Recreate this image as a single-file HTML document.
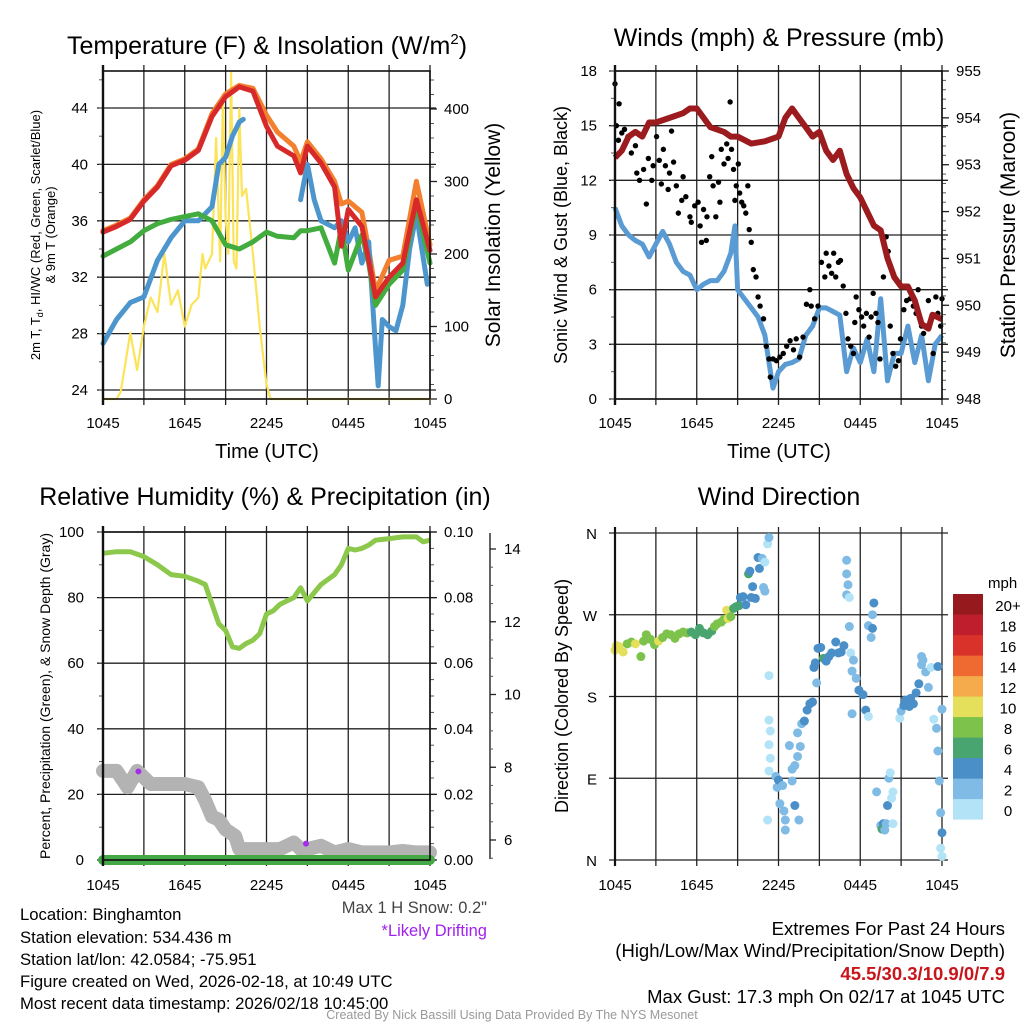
<!DOCTYPE html>
<html><head><meta charset="utf-8"><style>
html,body{margin:0;padding:0;background:#fff}
svg{display:block;font-family:"Liberation Sans",sans-serif}
</style></head><body>
<svg id="c" width="1024" height="1024" viewBox="0 0 1024 1024" xmlns="http://www.w3.org/2000/svg"></svg>
<script>
// ===== DATA =====
const xTickLabels = ["1045","1645","2245","0445","1045"];
const tH   = [0,1,2,3,4,5,6,7,8,9,10,11,12,12.8,14,14.5,15,16,17,17.5,18,19,19.5,20,21,22,23,24];
const tRed = [35.2,35.6,36.1,37.4,38.4,39.9,40.3,41.0,43.4,44.8,45.5,45.2,42.7,41.3,40.6,39.4,41.3,40.1,38.4,34.2,36.8,35.6,33.2,30.6,32.0,33.0,37.5,33.9];
const tOrg = [35.3,35.7,36.2,37.5,38.5,40.0,40.4,41.1,43.6,45.0,45.6,45.4,43.5,42.3,41.3,40.2,41.6,40.4,38.8,37.2,37.4,36.6,34.0,31.0,33.2,33.5,38.8,34.3];
const tGrn = [33.5,34.0,34.5,35.3,35.8,36.1,36.3,36.5,36.0,34.3,34.0,34.5,35.2,34.9,34.8,35.3,35.3,35.5,33.0,35.5,32.5,35.0,33.0,30.0,31.5,32.5,37.2,33.0];
const bH   = [0,1,2,3,4,5,6,7,8,8.5,9,9.5,10,10.3,null,14.5,15,15.5,16,17,17.5,18,18.5,19,19.5,20,20.2,20.5,21,21.5,22,22.5,23,23.8];
const bVal = [27.3,29.0,30.2,30.6,33.2,34.8,36.0,36.0,37.0,40.0,40.5,42.0,43.0,43.2,null,37.5,40.0,37.5,36.0,35.5,36.0,34.5,35.5,33.0,34.5,27.0,24.3,29.0,28.5,28.2,30.0,34.0,36.5,31.5];
const sH   = [0,1,1.3,2,2.5,3,3.5,4,4.5,5,5.5,6,6.5,7,7.3,7.5,8,8.3,8.6,8.8,9,9.2,9.4,9.6,9.8,10,10.2,10.5,11,11.5,12,12.3,24];
const sVal = [0,0,10,91,40,100,140,120,200,130,150,100,130,140,200,180,200,360,190,420,250,200,450,190,180,400,280,290,200,100,20,0,0];
const wH   = [0,0.5,1,1.5,2,2.5,3,3.5,4,4.5,5,5.5,6,6.5,7,7.5,8,8.5,8.8,9,9.5,10,10.5,11,11.3,11.6,12,12.5,13,13.5,14,14.5,15,15.5,16,16.5,17,17.5,18,18.5,19,19.5,20,20.5,21,21.5,22,22.5,23,23.5,24];
const wSpd = [10.5,9.5,9.0,8.7,8.5,7.8,8.5,9.2,8.5,7.5,7.0,6.8,6.0,6.3,6.5,6.5,7.0,8.0,9.5,6.0,5.5,5.0,4.5,3.5,2.0,0.6,1.5,1.9,2.0,2.2,3.5,4.0,5.0,5.0,4.8,4.6,1.5,2.8,2.0,3.3,1.5,5.5,1.0,2.5,2.5,4.0,2.0,3.5,1.0,3.0,3.5];
const gH   = [0,0.3,0.1,0.25,0.5,0.7,0.95,1.2,1.5,1.6,1.8,2.1,2.3,2.45,2.7,2.8,3.05,3.25,3.4,3.55,3.7,3.9,4.0,4.15,4.3,4.5,4.65,4.9,5.0,5.2,5.5,5.6,5.85,6.1,6.25,6.35,6.5,6.7,6.75,6.95,7.1,7.2,7.4,7.6,7.7,7.8,8.0,8.2,8.3,8.45,8.55,8.7,8.8,8.9,9.05,9.15,9.3,9.45,9.6,9.75,9.85,10.0,10.15,10.35,10.5,10.65,10.9,11.1,11.3,11.4,11.6,11.85,12.1,12.35,12.6,12.85,13.1,13.3,13.55,13.8,14.05,14.3,14.4,14.65,14.9,15.15,15.4,15.5,15.7,15.9,16.05,16.2,16.4,16.55,16.75,16.95,17.1,17.3,17.5,17.6,17.7,17.9,18.1,18.25,18.45,18.65,18.8,18.95,19.15,19.3,19.45,19.7,19.9,20.05,20.2,20.4,20.6,20.8,20.95,21.2,21.4,21.65,21.9,22.1,22.25,22.5,22.65,22.85,23.0,23.15,23.35,23.55,23.7,23.9,24.0];
const gVal = [17.3,16.2,15.0,14.2,14.6,14.8,14.4,13.5,13.9,12.4,12.0,12.6,10.7,13.2,12.0,12.8,14.4,13.1,11.8,13.7,12.8,11.5,12.4,14.7,13.0,11.7,10.2,10.9,12.2,11.1,10.0,9.7,10.6,10.8,9.5,8.6,10.4,8.7,10.0,12.2,13.3,11.7,10.0,11.9,10.8,13.7,12.9,14.0,13.2,16.3,13.7,12.6,10.9,11.7,12.9,11.3,10.8,10.6,10.2,11.7,9.3,8.6,7.1,6.7,5.6,5.1,4.4,2.9,2.2,1.2,2.2,2.1,2.3,2.5,2.9,3.2,2.7,3.3,2.3,3.4,5.2,6.0,5.1,4.4,5.1,7.5,6.7,8.0,7.3,6.9,8.0,6.7,7.5,7.6,6.2,4.7,3.3,2.9,2.5,4.2,5.6,4.9,4.5,4.0,4.7,3.4,4.5,5.8,4.7,4.2,2.2,6.7,8.9,8.1,4.0,2.5,1.8,2.1,3.3,4.9,5.4,5.5,5.1,4.7,6.0,4.0,3.6,4.0,5.4,4.2,2.5,5.6,4.7,4.0,5.5];
const pH   = [0,0.5,1,1.5,2,2.5,3,4,5,5.5,6,6.5,7,8,8.5,9,10,11,12,12.5,13,13.5,14,14.5,15,15.5,16,16.5,17,17.5,18,18.5,19,19.5,20,20.5,21,21.5,22,22.5,23,23.3,24];
const pVal = [953.15,953.3,953.6,953.7,953.6,953.9,953.9,954.0,954.1,954.2,954.2,954.0,953.8,953.7,953.6,953.6,953.45,953.5,953.6,954.0,954.2,954.0,953.8,953.6,953.7,953.3,953.1,953.3,952.8,952.5,952.3,952.0,951.7,951.6,951.0,950.6,950.4,950.4,950.1,949.6,949.5,949.8,949.7];
const rhH  = [0,1,2,3,4,5,6,7,7.5,8,8.5,9,9.5,10,10.5,11,11.5,12,12.5,13,14,14.5,15,16,17,17.5,18,18.5,19,19.5,20,21,22,23,23.5,24];
const rhV  = [93.5,94,94,92.5,90,87,86.5,85,84,78,72,70,65,64.5,66,67,69,75,76,78,80,83,79,84,87,90,95,94.5,95,96,97.5,98,98.5,98.5,97,97.5];
const prH  = [0,24];
const prV  = [0,0];
const snH  = [0,1,1.8,2.5,3.5,4,5,6,7,7.5,8,8.5,9,9.7,10,11,12,13,14,14.5,15,16,17,18,19,20,21,22,23,24];
const snV  = [7.9,7.9,7.45,7.9,7.54,7.54,7.54,7.54,7.45,7.09,6.64,6.56,6.29,6.11,5.75,5.75,5.75,5.75,5.93,5.75,5.75,5.84,5.66,5.75,5.66,5.66,5.66,5.7,5.66,5.66];
const drH  = [2.6,14.9];
const drPct= [27,5];
const dH = [0,0.1,0.3,0.6,0.9,1.2,1.5,1.9,2.1,2.3,2.6,2.9,3.2,3.5,3.8,4.1,4.4,4.7,5.0,5.3,5.6,5.9,6.2,6.5,6.8,7.1,7.3,7.5,7.8,8.0,8.2,8.3,8.5,8.7,8.9,9.1,9.2,9.4,9.6,9.8,9.9,10.0,10.1,10.3,10.5,10.6,10.8,10.9,11.0,11.0,11.2,11.3,
 11.3,11.3,11.4,11.3,11.4,11.3,11.2,11.8,11.9,12.0,12.1,12.3,12.4,12.5,12.5,12.8,13.0,13.2,13.0,13.4,13.6,13.4,13.7,13.9,14.1,14.3,14.5,14.6,14.7,14.9,15.1,15.3,15.5,15.7,15.9,16.2,16.4,16.6,16.8,14.8,13.2,13.5,
 17.0,17.0,17.1,17.0,17.2,17.2,17.3,17.5,17.4,17.7,17.9,18.2,18.4,17.4,18.6,18.6,18.8,18.9,18.9,19.0,19.2,19.5,19.7,19.6,19.8,19.9,20.0,20.1,20.2,20.3,20.4,20.4,20.9,21.0,21.2,21.3,21.6,21.7,21.9,22.1,22.3,22.5,22.5,22.6,22.8,23.0,23.2,23.4,23.6,23.7,23.8,23.9,24.0,23.9,24.0,24.0,23.7];
const dDir = [231,236,235,229,238,240,238,224,241,248,243,237,241,245,249,248,244,249,251,250,251,248,255,250,248,252,257,260,262,265,275,266,268,277,279,280,289,290,281,315,318,289,301,288,333,321,332,300,296,328,348,355,
 203,154,142,127,112,98,44,92,80,88,62,82,54,44,33,126,100,104,87,114,125,140,150,153,165,172,174,212,217,233,234,222,219,224,228,240,228,229,236,195,60,44,
 330,315,303,292,289,257,228,220,208,200,187,182,165,161,158,258,245,270,255,283,75,38,40,34,33,40,60,90,96,68,75,40,156,164,170,176,169,178,172,184,194,224,215,220,207,190,212,155,145,120,87,52,30,13,4,166,213];
const dSpd = [10,10,10,10,8,8,10,8,8,8,8,8,10,8,8,8,8,8,8,8,6,6,6,6,6,6,8,8,8,8,10,10,8,6,6,6,4,4,4,6,4,4,4,4,4,4,2,2,2,0,0,2,
 0,0,0,0,0,0,0,2,2,4,2,2,2,2,2,2,2,2,2,2,2,2,2,4,4,4,4,4,4,4,4,6,4,4,4,4,4,4,4,2,4,2,2,
 2,2,2,0,2,0,2,2,2,4,4,4,2,0,2,2,2,4,4,2,2,4,6,2,2,4,2,0,0,0,0,0,2,4,4,4,4,4,4,4,2,2,2,2,2,0,0,2,2,2,2,4,0,0,2,4,0];
const cbLabels = ["20+","18","16","14","12","10","8","6","4","2","0"];
const cbColors = ["#b3e3f7","#7fbbe4","#4a8fc7","#48a56f","#7cc24b","#e5e05c","#f5aa4b","#ef6a31","#d8322a","#bf1e2d","#961a1d"];

// ===== DRAWING =====
const NS="http://www.w3.org/2000/svg";
const svg=document.getElementById('c');
function el(tag,attrs,parent,text){const e=document.createElementNS(NS,tag);for(const k in attrs)e.setAttribute(k,attrs[k]);if(text!==undefined)e.textContent=text;(parent||svg).appendChild(e);return e;}
function lin(d0,d1,r0,r1){return v=>r0+(v-d0)*(r1-r0)/(d1-d0);}
function pathFrom(xs,ys,fx,fy){let d="",pen=false;for(let i=0;i<xs.length;i++){if(xs[i]===null||ys[i]===null){pen=false;continue;}d+=(pen?"L":"M")+fx(xs[i]).toFixed(1)+","+fy(ys[i]).toFixed(1);pen=true;}return d;}

function grid(g,x0,x1,y0,y1,xs,ys){
  for(const x of xs){const l=el('line',{x1:x,x2:x,y1:y0-6,y2:y1+6,stroke:'#222','stroke-width':1.3},g);}
  for(const y of ys){const l=el('line',{x1:x0-6,x2:x1+6,y1:y,y2:y,stroke:'#222','stroke-width':1.3},g);}
}
function xAxis(g,fx,ybase){
  for(let i=0;i<5;i++){const t=el('text',{x:fx(i*6),y:ybase,'font-size':15,'text-anchor':'middle'},g,xTickLabels[i]);}
}
function ticksRight(g,x,fy,vals,minors,fmt,len){
  for(const v of minors){el('line',{x1:x,x2:x+4,y1:fy(v),y2:fy(v),stroke:'#555','stroke-width':1},g);}
  for(const v of vals){el('line',{x1:x,x2:x+(len||7),y1:fy(v),y2:fy(v),stroke:'#222','stroke-width':1.3},g);
    const t=el('text',{x:x+14,y:fy(v)+5,'font-size':15},g,fmt(v));}
}
function ticksLeft(g,x,fy,vals,minors,fmt,lx){
  for(const v of minors){el('line',{x1:x-4,x2:x,y1:fy(v),y2:fy(v),stroke:'#555','stroke-width':1},g);}
  for(const v of vals){const t=el('text',{x:lx,y:fy(v)+5,'font-size':15,'text-anchor':'end'},g,fmt(v));}
}
function frame(g,x0,x1,y0,y1){el('rect',{x:x0,y:y0,width:x1-x0,height:y1-y0,fill:'none',stroke:'#111','stroke-width':1.6},g);el('line',{x1:x0,x2:x0,y1:y0-6,y2:y1+6,stroke:'#111','stroke-width':2.4},g);}
function title(x,y,txt,name,size){const t=el('text',{x:x,y:y,'font-size':size||25,'text-anchor':'middle'},svg,txt);return t;}
function vlabel(x,y,txt,size,name){const t=el('text',{x:0,y:0,'font-size':size,'text-anchor':'middle',transform:`translate(${x},${y}) rotate(-90)`},svg,txt);return t;}
function range(a,b,s){const r=[];for(let v=a;v<=b+1e-9;v+=s)r.push(+v.toFixed(4));return r;}

// ---------- Panel 1 ----------
{
 const X0=103,X1=430,Y0=71,Y1=399;
 const g=el('g',{});
 const fx=lin(0,24,X0,X1), fy=lin(24,44,390,108), fs=lin(0,400,399,109);
 const xs=[];for(let h=0;h<=24;h+=3)xs.push(fx(h));
 grid(g,X0,X1,Y0,Y1,xs,[24,28,32,36,40,44].map(fy));
 ticksLeft(g,X0,fy,[24,28,32,36,40,44],range(24,46,2),v=>v,88);
 ticksRight(g,X1,fs,[0,100,200,300,400],range(0,450,20),v=>v);
 const mk=(xsA,ysA,fyy,col,w,name)=>{const p=el('path',{d:pathFrom(xsA,ysA,fx,fyy),fill:'none',stroke:col,'stroke-width':w,'stroke-linejoin':'round','stroke-linecap':'round'},g);};
 mk(sH,sVal,fs,'#fbe35a',2.2,'insolation-line');
 mk(tH,tOrg,fy,'#f2802f',5,'temp-9m-line');
 mk(bH,bVal,fy,'#4d96cd',5,'wind-chill-line');
 mk(tH,tGrn,fy,'#42ad3e',5,'dewpoint-line');
 mk(tH,tRed,fy,'#d8292a',5,'temperature-line');
 frame(g,X0,X1,Y0,Y1);
 xAxis(g,fx,428);
 const t=title(267,54,'','temperature-title');
 t.innerHTML='Temperature (F) &amp; Insolation (W/m<tspan dy="-10" font-size="15">2</tspan><tspan dy="10">)</tspan>';
 title(267,458,'Time (UTC)','temp-x-axis-title',20);
 const a=el('text',{'font-size':13,'text-anchor':'middle',transform:'translate(40,235) rotate(-90)'},svg);
 
 a.innerHTML='<tspan x="0" dy="0">2m T, T<tspan font-size="9" dy="3">d</tspan><tspan dy="-3">, HI/WC (Red, Green, Scarlet/Blue)</tspan></tspan><tspan x="0" dy="15">&amp; 9m T (Orange)</tspan>';
 vlabel(500,235,'Solar Insolation (Yellow)',21,'insolation-axis-title');
}
// ---------- Panel 2 ----------
{
 const X0=615,X1=942,Y0=71,Y1=399;
 const g=el('g',{});
 const fx=lin(0,24,X0,X1), fy=lin(0,18,399,71), fp=lin(948,955,399,71);
 const xs=[];for(let h=0;h<=24;h+=3)xs.push(fx(h));
 grid(g,X0,X1,Y0,Y1,xs,[0,3,6,9,12,15,18].map(fy));
 ticksLeft(g,X0,fy,[0,3,6,9,12,15,18],range(0,18,1.5),v=>v,597);
 ticksRight(g,X1,fp,[948,949,950,951,952,953,954,955],range(948,955,0.2),v=>v);
 const w=el('path',{d:pathFrom(wH,wSpd,fx,fy),fill:'none',stroke:'#5a9bd3','stroke-width':5,'stroke-linejoin':'round'},g);
 
 for(let i=0;i<gH.length;i++){const c=el('circle',{cx:fx(gH[i]),cy:fy(gVal[i]),r:2.7,fill:'#000'},g);}
 const p=el('path',{d:pathFrom(pH,pVal,fx,fp),fill:'none',stroke:'#9b1b1e','stroke-width':6,'stroke-linejoin':'round'},g);
 
 frame(g,X0,X1,Y0,Y1);
 xAxis(g,fx,428);
 title(779,46,'Winds (mph) & Pressure (mb)','wind-title');
 title(779,458,'Time (UTC)','wind-x-axis-title',20);
 vlabel(567,235,'Sonic Wind & Gust (Blue, Black)',18,'wind-y-axis-title');
 vlabel(1015,235,'Station Pressure (Maroon)',21,'pressure-axis-title');
}
// ---------- Panel 3 ----------
{
 const X0=103,X1=430,Y0=532,Y1=860;
 const g=el('g',{});
 const fx=lin(0,24,X0,X1), fy=lin(0,100,860,532), fr=lin(0,0.1,860,532), fsn=lin(6,14,840,549);
 const xs=[];for(let h=0;h<=24;h+=3)xs.push(fx(h));
 grid(g,X0,X1,Y0,Y1,xs,[0,20,40,60,80,100].map(fy));
 ticksLeft(g,X0,fy,[0,20,40,60,80,100],range(0,100,10),v=>v,84);
 ticksRight(g,X1,fr,[0,0.02,0.04,0.06,0.08,0.1],range(0,0.1,0.005),v=>v.toFixed(2));
 el('line',{x1:490,x2:490,y1:533,y2:859,stroke:'#222','stroke-width':1.4},g);
 for(const v of range(5.5,14,0.5)){el('line',{x1:490,x2:493,y1:fsn(v),y2:fsn(v),stroke:'#555','stroke-width':1},g);}
 for(const v of [6,8,10,12,14]){el('line',{x1:490,x2:496,y1:fsn(v),y2:fsn(v),stroke:'#222','stroke-width':1.3},g);const t=el('text',{x:504,y:fsn(v)+5,'font-size':15},g,v);}
 const sn=el('path',{d:pathFrom(snH,snV,fx,fsn),fill:'none',stroke:'#b3b3b3','stroke-width':14,'stroke-linejoin':'round','stroke-linecap':'round'},g);
 
 for(let i=0;i<drH.length;i++){const c=el('circle',{cx:fx(drH[i]),cy:fy(drPct[i]),r:3,fill:'#a42ee8'},g);}
 const pr=el('path',{d:pathFrom(prH,prV,fx,fr),fill:'none',stroke:'#43a845','stroke-width':10,'stroke-linecap':'round'},g);
 
 const rh=el('path',{d:pathFrom(rhH,rhV,fx,fy),fill:'none',stroke:'#8cc84b','stroke-width':5,'stroke-linejoin':'round'},g);
 
 frame(g,X0,X1,Y0,Y1);
 xAxis(g,fx,890);
 title(265,505,'Relative Humidity (%) & Precipitation (in)','humidity-title');
 vlabel(50,696,'Percent, Precipitation (Green), & Snow Depth (Gray)',14,'humidity-y-axis-title');
}
// ---------- Panel 4 ----------
{
 const X0=615,X1=942,Y0=533,Y1=860;
 const g=el('g',{});
 const fx=lin(0,24,X0,X1), fy=lin(0,360,860,533);
 const xs=[];for(let h=0;h<=24;h+=3)xs.push(fx(h));
 grid(g,X0,X1,Y0,Y1,xs,[0,90,180,270,360].map(fy));
 const dl=["N","E","S","W","N"];
 [0,90,180,270,360].forEach((v,i)=>{const t=el('text',{x:597,y:fy(v)+6,'font-size':15,'text-anchor':'end'},g,dl[i]);});
 for(let i=0;i<dH.length;i++){const b=Math.min(10,Math.floor(dSpd[i]/2));const c=el('circle',{cx:fx(dH[i]),cy:fy(dDir[i]),r:4.5,fill:cbColors[b]},g);}
 el('line',{x1:X0,x2:X0,y1:Y0-6,y2:Y1+6,stroke:'#111','stroke-width':2.2},g);
 xAxis(g,fx,890);
 title(779,505,'Wind Direction','wind-direction-title');
 vlabel(568,696,'Direction (Colored By Speed)',18,'direction-y-axis-title');
 const cb=el('g',{});
 for(let i=0;i<11;i++){const y=594+(10-i)*20.5;const r=el('rect',{x:953,y:y,width:30,height:20.6,fill:cbColors[i]},cb);}
 const t0=el('text',{x:988,y:588,'font-size':15},cb,'mph');
 for(let i=0;i<11;i++){const t=el('text',{x:1008,y:611+i*20.5,'font-size':15,'text-anchor':'middle'},cb,cbLabels[i]);}
}
// ---------- Footer ----------
function txt(x,y,s,size,anchor,fill,weight,name){const t=el('text',{x:x,y:y,'font-size':size,'text-anchor':anchor,fill:fill,'font-weight':weight||'normal'},svg,s);return t;}
txt(20,920,'Location: Binghamton',16.7,'start','#000',0,'location-text');
txt(20,943,'Station elevation: 534.436 m',16.7,'start','#000',0,'elevation-text');
txt(20,965,'Station lat/lon: 42.0584; -75.951',16.7,'start','#000',0,'latlon-text');
txt(20,987,'Figure created on Wed, 2026-02-18, at 10:49 UTC',16.7,'start','#000',0,'created-text');
txt(20,1009,'Most recent data timestamp: 2026/02/18 10:45:00',16.7,'start','#000',0,'timestamp-text');
txt(487,913,'Max 1 H Snow: 0.2"',16.5,'end','#444',0,'max-snow-text');
txt(487,936,'*Likely Drifting',16.5,'end','#a020f0',0,'drifting-note');
txt(1005,935,'Extremes For Past 24 Hours',18.5,'end','#000',0,'extremes-title');
txt(1005,957,'(High/Low/Max Wind/Precipitation/Snow Depth)',18.5,'end','#000',0,'extremes-subtitle');
txt(1005,980,'45.5/30.3/10.9/0/7.9',18.5,'end','#c8161d','bold','extremes-values');
txt(1005,1003,'Max Gust: 17.3 mph On 02/17 at 1045 UTC',18.5,'end','#000',0,'max-gust-text');
txt(512,1019,'Created By Nick Bassill Using Data Provided By The NYS Mesonet',12.5,'middle','#999',0,'credit-text');
</script>
</body></html>
